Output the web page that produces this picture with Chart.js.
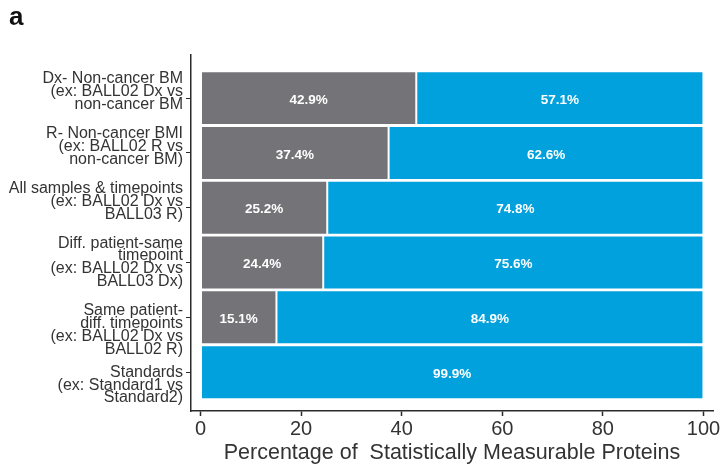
<!DOCTYPE html>
<html>
<head>
<meta charset="utf-8">
<script src="https://cdn.jsdelivr.net/npm/chart.js@4.4.1/dist/chart.umd.min.js"></script>
<style>
  html, body { margin: 0; padding: 0; background: #fff; }
  #wrap { width: 725px; height: 468px; }
</style>
</head>
<body>
<div id="wrap"><canvas id="chart"></canvas></div>
<script>
// comparison groups, one multi-line label per bar (top to bottom)
const comparisons = [
  ['Dx- Non-cancer BM', '(ex: BALL02 Dx vs', 'non-cancer BM'],
  ['R- Non-cancer BMI', '(ex: BALL02 R vs', 'non-cancer BM)'],
  ['All samples & timepoints', '(ex: BALL02 Dx vs', 'BALL03 R)'],
  ['Diff. patient-same', 'timepoint', '(ex: BALL02 Dx vs', 'BALL03 Dx)'],
  ['Same patient-', 'diff. timepoints', '(ex: BALL02 Dx vs', 'BALL02 R)'],
  ['Standards', '(ex: Standard1 vs', 'Standard2)']
];
// percentages per group, grey part then blue part
const greyPct = [42.9, 37.4, 25.2, 24.4, 15.1, 0.1];
const bluePct = [57.1, 62.6, 74.8, 75.6, 84.9, 99.9];
const xTicks = [0, 20, 40, 60, 80, 100];

const GREY = '#747478';
const BLUE = '#00a1dc';
const AXIS = '#2a2a2a';

Chart.defaults.font.family = '"Liberation Sans", Arial, sans-serif';
Chart.defaults.color = '#333';

const toPoints = (vals) => vals.map((v, i) => ({ x: v, y: i }));

// the category labels don't sit exactly centred on their ticks:
// pad with blank lines (positive = blank lines below, negative = above)
const padLines = [1, 1, 1, 0, -2, -2];
const paddedLabel = (i) => {
  const n = padLines[i];
  const blanks = new Array(Math.abs(n)).fill('');
  return n > 0 ? comparisons[i].concat(blanks) : blanks.concat(comparisons[i]);
};

// white percentage text in the middle of each segment
const barLabels = {
  id: 'barLabels',
  afterDatasetsDraw(chart) {
    const ctx = chart.ctx;
    ctx.save();
    ctx.font = 'bold 13.5px "Liberation Sans", Arial, sans-serif';
    ctx.fillStyle = '#fff';
    ctx.textAlign = 'center';
    ctx.textBaseline = 'middle';
    chart.data.datasets.forEach((ds, di) => {
      chart.getDatasetMeta(di).data.forEach((bar, i) => {
        const v = ds.data[i].x;
        if (v < 5) return;
        ctx.fillText(v.toFixed(1) + '%', (bar.x + bar.base) / 2, bar.y + 2);
      });
    });
    ctx.restore();
  }
};

new Chart(document.getElementById('chart'), {
  type: 'bar',
  data: {
    datasets: [
      {
        data: toPoints(greyPct),
        backgroundColor: GREY,
        borderColor: '#fff',
        borderWidth: 1,
        borderSkipped: false
      },
      {
        data: toPoints(bluePct),
        backgroundColor: BLUE,
        borderColor: '#fff',
        borderWidth: 1,
        borderSkipped: false
      }
    ]
  },
  options: {
    indexAxis: 'y',
    responsive: true,
    maintainAspectRatio: false,
    animation: false,
    categoryPercentage: 1,
    barPercentage: 0.985,
    layout: { padding: { left: 9, right: 12, top: 0, bottom: 0 } },
    plugins: {
      legend: { display: false },
      tooltip: { enabled: false },
      title: {
        display: true,
        text: 'a',
        align: 'start',
        color: '#111',
        font: { size: 26, weight: 'bold', lineHeight: 1.2 },
        padding: { top: 2, bottom: 21.8 }
      }
    },
    scales: {
      x: {
        type: 'linear',
        stacked: true,
        min: -1.89,
        max: 101.9,
        afterBuildTicks: (s) => { s.ticks = xTicks.map(v => ({ value: v })); },
        afterFit: (s) => { s.height = 57; },
        border: { display: true, color: AXIS, width: 1.5 },
        grid: { drawOnChartArea: false, drawTicks: true, tickLength: 5, tickColor: AXIS, tickWidth: 1.5 },
        ticks: { color: '#333', padding: 1, autoSkip: false, font: { size: 20 } },
        title: {
          display: true,
          text: 'Percentage of  Statistically Measurable Proteins',
          color: '#333',
          font: { size: 21.5 },
          padding: { top: 0, bottom: 2 }
        }
      },
      y: {
        type: 'linear',
        stacked: true,
        reverse: true,
        offset: false,
        min: -0.787,
        max: 5.709,
        afterBuildTicks: (s) => { s.ticks = comparisons.map((_, i) => ({ value: i })); },
        afterFit: (s) => { s.width = 182; },
        border: { display: true, color: AXIS, width: 1.5 },
        grid: { offset: false, drawOnChartArea: false, drawTicks: true, tickLength: 5, tickColor: AXIS, tickWidth: 1 },
        ticks: {
          color: '#333',
          padding: 3,
          autoSkip: false,
          font: { size: 16, lineHeight: 0.81 },
          callback: (v) => paddedLabel(v)
        }
      }
    }
  },
  plugins: [barLabels]
});
</script>
</body>
</html>
